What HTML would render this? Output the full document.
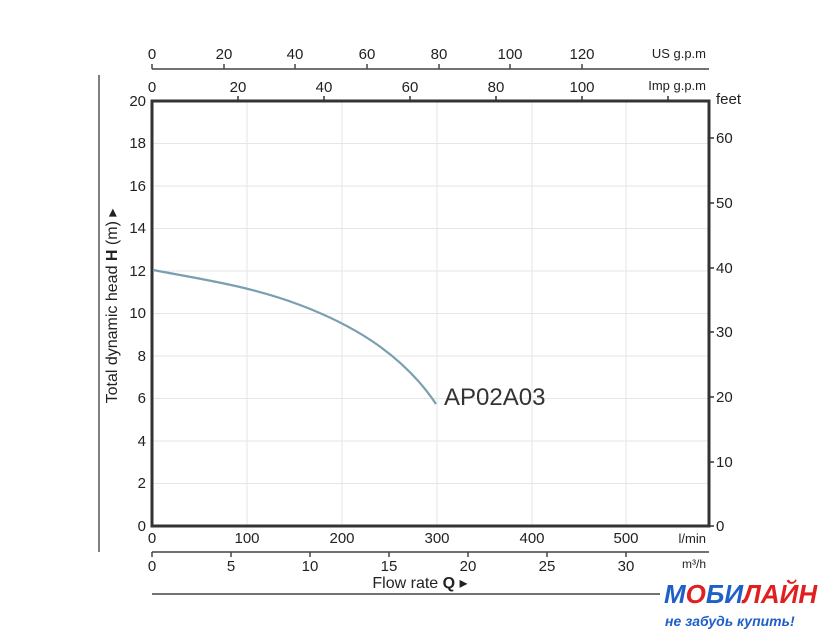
<!DOCTYPE html>
<html><head><meta charset="utf-8"><style>body{margin:0;background:#fff}svg{display:block}</style></head>
<body>
<svg width="840" height="640" xmlns="http://www.w3.org/2000/svg" font-family="Liberation Sans, sans-serif" fill="#222">
<rect width="840" height="640" fill="#fff"/>
<g stroke="#e6e6e6" stroke-width="1">
<line x1="247" y1="101" x2="247" y2="526"/><line x1="342" y1="101" x2="342" y2="526"/><line x1="437" y1="101" x2="437" y2="526"/><line x1="532" y1="101" x2="532" y2="526"/><line x1="626" y1="101" x2="626" y2="526"/>
<line x1="152" y1="143.5" x2="709" y2="143.5"/><line x1="152" y1="186" x2="709" y2="186"/><line x1="152" y1="228.5" x2="709" y2="228.5"/><line x1="152" y1="271" x2="709" y2="271"/><line x1="152" y1="313.5" x2="709" y2="313.5"/><line x1="152" y1="356" x2="709" y2="356"/><line x1="152" y1="398.5" x2="709" y2="398.5"/><line x1="152" y1="441" x2="709" y2="441"/><line x1="152" y1="483.5" x2="709" y2="483.5"/>
</g>
<rect x="152" y="101" width="557" height="425" fill="none" stroke="#333" stroke-width="3"/>
<path d="M153,270 C200,279 250,286 300,305 C345,322 400,350 436,404" fill="none" stroke="#7a9fb0" stroke-width="2.2"/>
<text x="444" y="405" font-size="24" fill="#333">AP02A03</text>
<g font-size="15" text-anchor="end">
<text x="146" y="106">20</text><text x="146" y="148">18</text><text x="146" y="191">16</text><text x="146" y="233">14</text><text x="146" y="276">12</text><text x="146" y="318">10</text><text x="146" y="361">8</text><text x="146" y="403">6</text><text x="146" y="446">4</text><text x="146" y="488">2</text><text x="146" y="531">0</text>
</g>
<text transform="translate(117,306) rotate(-90)" text-anchor="middle" font-size="16">Total dynamic head <tspan font-weight="bold">H</tspan> (m) ▸</text>
<line x1="99" y1="75" x2="99" y2="552" stroke="#555" stroke-width="1.5"/>
<g stroke="#333" stroke-width="1.5">
<line x1="709" y1="138" x2="714" y2="138"/><line x1="709" y1="203" x2="714" y2="203"/><line x1="709" y1="268" x2="714" y2="268"/><line x1="709" y1="332" x2="714" y2="332"/><line x1="709" y1="397" x2="714" y2="397"/><line x1="709" y1="462" x2="714" y2="462"/><line x1="709" y1="526" x2="714" y2="526"/>
</g>
<g font-size="15">
<text x="716" y="104">feet</text><text x="716" y="143">60</text><text x="716" y="208">50</text><text x="716" y="273">40</text><text x="716" y="337">30</text><text x="716" y="402">20</text><text x="716" y="467">10</text><text x="716" y="531">0</text>
</g>
<line x1="152" y1="69" x2="709" y2="69" stroke="#444" stroke-width="1.5"/>
<g stroke="#444" stroke-width="1.5">
<line x1="152" y1="64" x2="152" y2="69"/><line x1="224" y1="64" x2="224" y2="69"/><line x1="295" y1="64" x2="295" y2="69"/><line x1="367" y1="64" x2="367" y2="69"/><line x1="439" y1="64" x2="439" y2="69"/><line x1="510" y1="64" x2="510" y2="69"/><line x1="582" y1="64" x2="582" y2="69"/>
</g>
<g font-size="15" text-anchor="middle">
<text x="152" y="59">0</text><text x="224" y="59">20</text><text x="295" y="59">40</text><text x="367" y="59">60</text><text x="439" y="59">80</text><text x="510" y="59">100</text><text x="582" y="59">120</text>
</g>
<text x="706" y="58" font-size="13" text-anchor="end">US g.p.m</text>
<g stroke="#333" stroke-width="1.5">
<line x1="238" y1="96" x2="238" y2="101"/><line x1="324" y1="96" x2="324" y2="101"/><line x1="410" y1="96" x2="410" y2="101"/><line x1="496" y1="96" x2="496" y2="101"/><line x1="582" y1="96" x2="582" y2="101"/><line x1="668" y1="96" x2="668" y2="101"/>
</g>
<g font-size="15" text-anchor="middle">
<text x="152" y="92">0</text><text x="238" y="92">20</text><text x="324" y="92">40</text><text x="410" y="92">60</text><text x="496" y="92">80</text><text x="582" y="92">100</text>
</g>
<text x="706" y="90" font-size="13" text-anchor="end">Imp g.p.m</text>
<g font-size="15" text-anchor="middle">
<text x="152" y="543">0</text><text x="247" y="543">100</text><text x="342" y="543">200</text><text x="437" y="543">300</text><text x="532" y="543">400</text><text x="626" y="543">500</text>
</g>
<text x="706" y="543" font-size="13" text-anchor="end">l/min</text>
<line x1="152" y1="552" x2="709" y2="552" stroke="#444" stroke-width="1.5"/>
<g stroke="#444" stroke-width="1.5">
<line x1="152" y1="552" x2="152" y2="557"/><line x1="231" y1="552" x2="231" y2="557"/><line x1="310" y1="552" x2="310" y2="557"/><line x1="389" y1="552" x2="389" y2="557"/><line x1="468" y1="552" x2="468" y2="557"/><line x1="547" y1="552" x2="547" y2="557"/><line x1="626" y1="552" x2="626" y2="557"/>
</g>
<g font-size="15" text-anchor="middle">
<text x="152" y="571">0</text><text x="231" y="571">5</text><text x="310" y="571">10</text><text x="389" y="571">15</text><text x="468" y="571">20</text><text x="547" y="571">25</text><text x="626" y="571">30</text>
</g>
<text x="706" y="568" font-size="12" text-anchor="end">m³/h</text>
<text x="420" y="588" font-size="16" text-anchor="middle">Flow rate <tspan font-weight="bold">Q</tspan> ▸</text>
<line x1="152" y1="594" x2="660" y2="594" stroke="#444" stroke-width="1.5"/>
<text x="664" y="603" font-size="26" font-weight="bold" font-style="italic" fill="#1e5fc8">М<tspan fill="#e02020">О</tspan>БИ<tspan fill="#e02020">ЛАЙН</tspan></text>
<text x="665" y="626" font-size="14" font-weight="bold" font-style="italic" fill="#1e5fc8">не забудь купить!</text>
</svg>
</body></html>
